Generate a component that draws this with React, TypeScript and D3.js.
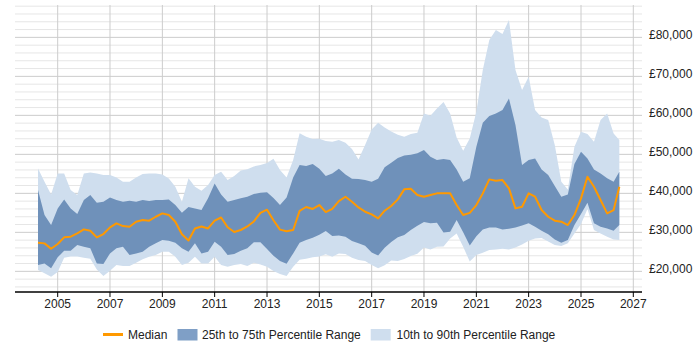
import React from "react";
import * as d3 from "d3";

// quarterly samples
const dates = [
  "2004-04-01", "2004-07-01", "2004-10-01",
  "2005-01-01", "2005-04-01", "2005-07-01", "2005-10-01",
  "2006-01-01", "2006-04-01", "2006-07-01", "2006-10-01",
  "2007-01-01", "2007-04-01", "2007-07-01", "2007-10-01",
  "2008-01-01", "2008-04-01", "2008-07-01", "2008-10-01",
  "2009-01-01", "2009-04-01", "2009-07-01", "2009-10-01",
  "2010-01-01", "2010-04-01", "2010-07-01", "2010-10-01",
  "2011-01-01", "2011-04-01", "2011-07-01", "2011-10-01",
  "2012-01-01", "2012-04-01", "2012-07-01", "2012-10-01",
  "2013-01-01", "2013-04-01", "2013-07-01", "2013-10-01",
  "2014-01-01", "2014-04-01", "2014-07-01", "2014-10-01",
  "2015-01-01", "2015-04-01", "2015-07-01", "2015-10-01",
  "2016-01-01", "2016-04-01", "2016-07-01", "2016-10-01",
  "2017-01-01", "2017-04-01", "2017-07-01", "2017-10-01",
  "2018-01-01", "2018-04-01", "2018-07-01", "2018-10-01",
  "2019-01-01", "2019-04-01", "2019-07-01", "2019-10-01",
  "2020-01-01", "2020-04-01", "2020-07-01", "2020-10-01",
  "2021-01-01", "2021-04-01", "2021-07-01", "2021-10-01",
  "2022-01-01", "2022-04-01", "2022-07-01", "2022-10-01",
  "2023-01-01", "2023-04-01", "2023-07-01", "2023-10-01",
  "2024-01-01", "2024-04-01", "2024-07-01", "2024-10-01",
  "2025-01-01", "2025-04-01", "2025-07-01", "2025-10-01",
  "2026-01-01", "2026-04-01", "2026-06-20",
];

const median = [
  27340, 27170, 25800,
  27000, 28710, 28880, 29730,
  30760, 30420, 28710, 29560,
  31270, 32300, 31610, 31440,
  32725, 33150, 32980, 34000,
  34860, 34430, 32725, 29500,
  27900, 31000, 31500, 31000,
  33000, 33800, 31300, 30100,
  30600, 31500, 32800, 35000,
  35800, 33100, 30700, 30300,
  30600, 35500, 36500, 36000,
  37000, 35200, 36000, 38000,
  39130, 37850, 36400, 35290,
  34610, 33580, 35550, 36740,
  38450, 41020, 41190, 39560,
  39130, 39560, 40000, 40000,
  40000, 37000, 34430, 35000,
  37000, 39990, 43580, 43240,
  43410, 41270, 36140, 36570,
  39990, 39130, 35720, 34000,
  32980, 32720, 31870, 34430,
  38710, 44260, 41700, 38280,
  34860, 35720, 41700,
];

const p90 = [
  46400, 42980, 39730,
  45100, 45100, 40840, 39560,
  45100, 45370, 45100, 44690,
  44690, 44090, 42980, 42980,
  44090, 44950, 45100, 45100,
  44860, 43830, 41700, 37850,
  43840, 41700, 40670, 42130,
  44690, 45550, 43410, 44430,
  45890, 46150, 46910, 47250,
  47770, 48880, 45970, 44090,
  48540, 55380, 54520, 53920,
  54010, 53410, 53240, 53670,
  52980, 51360, 48710, 52380,
  56400, 58110, 56910, 55890,
  55030, 54520, 55200, 55550,
  60500, 59900, 61790, 63410,
  60500, 54350, 50930, 54090,
  60930, 71610, 79300, 81870,
  80840, 84430, 71610, 66490,
  69900, 61360, 59470, 58790,
  52380, 42980, 41000, 51950,
  55800, 55200, 53240, 58790,
  60500, 55370, 53670,
];

const p75 = [
  40840, 34430, 31870,
  36140, 38450, 36140, 34690,
  38280, 39560, 37600, 37850,
  38960, 38280, 37850, 38110,
  37850, 38280, 38020, 38280,
  38280, 38450, 37000, 35000,
  36500, 36140, 35720, 38710,
  42550, 39730, 37850, 38280,
  38710, 39130, 39820, 40160,
  40250, 38790, 37000, 38960,
  44090, 47250, 46990, 47510,
  46320, 44440, 45120, 46320,
  44860, 43750, 43670, 43410,
  42980, 43750, 46660, 47850,
  49050, 49730, 49900, 50250,
  51100, 49390, 48540, 48790,
  48540, 46140, 42980, 43840,
  51950, 58110, 59820, 60500,
  61360, 64350, 57510, 47260,
  48540, 48960, 46140, 44690,
  41870, 39130, 39730, 47510,
  50670, 48960, 46140, 45120,
  43840, 42980, 45540,
];

const p25 = [
  21610, 22040, 20760,
  23580, 25290, 25290, 26740,
  26310, 25890, 22040, 21870,
  24600, 25890, 26310, 24180,
  24600, 25030, 26310, 27170,
  28020, 27850, 27300, 25890,
  25030, 27170, 24600, 25030,
  27600, 26310, 24180, 24430,
  25290, 25890, 27430, 27430,
  25720, 24010, 22640, 21950,
  24600, 27340, 28020, 28620,
  29390, 30330, 29050, 29220,
  28880, 27770, 27170, 26570,
  24860, 24090, 26060, 27510,
  28710, 29310, 30590, 31700,
  32640, 32300, 32470, 29990,
  30160, 33150, 30000, 26600,
  29000, 30760, 31270, 31270,
  30760, 30930, 31270, 31780,
  32300, 31440, 30420, 29480,
  28190, 27340, 28020, 31870,
  34690, 37600, 32300, 31440,
  31010, 30420, 31870,
];

const p10 = [
  20330, 19480, 18620,
  19800, 23500, 23800, 23800,
  23500, 23200, 20500, 18790,
  20160, 21610, 21360, 21360,
  22210, 23070, 23750, 24180,
  25030, 25030, 23750, 21610,
  22210, 23750, 22040, 22040,
  23750, 21610, 21190, 21610,
  21870, 21360, 22210, 21780,
  21190, 20080, 19310, 18790,
  21190, 22980, 23240, 23580,
  23830, 24350, 23750, 24600,
  24430, 23490, 22900, 22640,
  21610, 20760, 21530, 22810,
  22640, 23150, 23920, 24520,
  26140, 25630, 26310, 26400,
  28450, 29730, 26310, 22500,
  24180, 24770, 25460, 25630,
  25800, 25630, 26140, 26910,
  27850, 28450, 28540, 27680,
  26740, 26480, 27170, 29730,
  32120, 36000, 30590, 29730,
  28880, 28190, 28020,
];

const yearTicks = [2005, 2007, 2009, 2011, 2013, 2015, 2017, 2019, 2021, 2023, 2025, 2027];
const salaryTicks = [20000, 30000, 40000, 50000, 60000, 70000, 80000];

const W = 700;
const H = 350;
const left = 15;
const right = 642;
const top = 5;
const bottom = 292;

const DARK = "#6f91ba";
const LIGHT = "#cfdeee";
const ORANGE = "#ff9900";
const FONT = "'Liberation Sans', Arial, sans-serif";

export default function App() {
  const parse = d3.timeParse("%Y-%m-%d");
  const rows = dates.map((d, i) => ({
    date: parse(d) as Date,
    med: median[i],
    p10: p10[i],
    p25: p25[i],
    p75: p75[i],
    p90: p90[i],
  }));

  const x = d3
    .scaleTime()
    .domain([new Date(2005, 0, 1), new Date(2027, 0, 1)])
    .range([57.7, 633.3]);
  const y = d3.scaleLinear().domain([14700, 88300]).range([bottom, top]);

  const outer = d3
    .area<any>()
    .x((d) => x(d.date))
    .y0((d) => y(d.p10))
    .y1((d) => y(d.p90));
  const inner = d3
    .area<any>()
    .x((d) => x(d.date))
    .y0((d) => y(d.p25))
    .y1((d) => y(d.p75));
  const line = d3
    .line<any>()
    .x((d) => x(d.date))
    .y((d) => y(d.med));

  const minor = d3.range(16000, 88001, 2000);

  return (
    <svg width={W} height={H} style={{ position: "absolute", left: 0, top: 0 }}>
      <rect width={W} height={H} fill="#fff" />
      {/* grid */}
      {minor.map((v) => (
        <line
          key={"m" + v}
          x1={left}
          x2={right}
          y1={y(v)}
          y2={y(v)}
          stroke={v % 10000 === 0 ? "#cccccc" : "#e6e6e6"}
          strokeWidth={1}
        />
      ))}
      {yearTicks.map((yr) => (
        <line
          key={"v" + yr}
          x1={x(new Date(yr, 0, 1))}
          x2={x(new Date(yr, 0, 1))}
          y1={top}
          y2={bottom}
          stroke="#cccccc"
          strokeWidth={1}
        />
      ))}

      {/* bands and median */}
      <path d={outer(rows) || ""} fill={LIGHT} />
      <path d={inner(rows) || ""} fill={DARK} />
      <path d={line(rows) || ""} fill="none" stroke={ORANGE} strokeWidth={2} strokeLinejoin="round" />

      {/* x axis */}
      <line x1={left} x2={right} y1={bottom} y2={bottom} stroke="#000" strokeWidth={1.5} />
      {yearTicks.map((yr) => (
        <g key={"t" + yr}>
          <line
            x1={x(new Date(yr, 0, 1))}
            x2={x(new Date(yr, 0, 1))}
            y1={bottom}
            y2={bottom + 5}
            stroke="#000"
          />
          <text
            x={x(new Date(yr, 0, 1))}
            y={307.5}
            textAnchor="middle"
            fontFamily={FONT}
            fontSize={12}
            fill="#222"
          >
            {yr}
          </text>
        </g>
      ))}

      {/* y labels on the right */}
      {salaryTicks.map((v) => (
        <text key={"y" + v} x={649} y={y(v) + 2} fontFamily={FONT} fontSize={12} fill="#222">
          {"£" + d3.format(",")(v)}
        </text>
      ))}

      {/* legend */}
      <line x1={103} x2={123} y1={334.5} y2={334.5} stroke={ORANGE} strokeWidth={3} />
      <text x={128} y={339} fontFamily={FONT} fontSize={12} fill="#222">
        Median
      </text>
      <rect x={177.5} y={329} width={20} height={11.5} fill="#7f9fc6" />
      <text x={202} y={339} fontFamily={FONT} fontSize={12} fill="#222">
        25th to 75th Percentile Range
      </text>
      <rect x={370.7} y={329} width={20} height={11.5} fill={LIGHT} />
      <text x={396.5} y={339} fontFamily={FONT} fontSize={12} fill="#222">
        10th to 90th Percentile Range
      </text>
    </svg>
  );
}
